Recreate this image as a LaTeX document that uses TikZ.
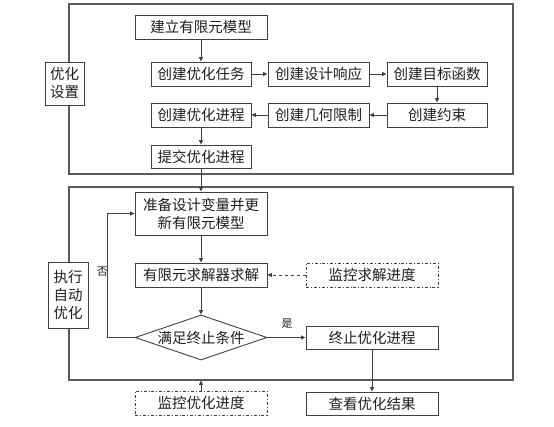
\documentclass[tikz,border=0pt]{standalone}
\usepackage{fontspec}
\setmainfont{Noto Sans CJK SC}
\usetikzlibrary{arrows.meta,shapes.geometric,positioning}
\definecolor{boxline}{HTML}{404040}
\definecolor{frameline}{HTML}{5A5A5A}
\definecolor{txt}{HTML}{1E1E1E}
\begin{document}
\begin{tikzpicture}[x=1pt,y=-1pt,
  every node/.style={font=\fontsize{14.5}{18}\selectfont, text=txt, inner sep=0pt},
  box/.style={draw=boxline, line width=0.9pt, fill=white, minimum height=24pt, align=center},
  wbox/.style={box, minimum width=132pt},
  nbox/.style={box, minimum width=100pt},
  mon/.style={wbox, dash dot},
  frame/.style={draw=frameline, line width=1.1pt},
  lab/.style={box, minimum width=39pt},
  arr/.style={draw=boxline, line width=0.9pt, -{Triangle[length=4.5pt,width=4pt]}},
  small/.style={font=\fontsize{11}{13}\selectfont}
]
\useasboundingbox (0,0) rectangle (554,426);
% frames
\node[frame, minimum width=444pt, minimum height=170pt] (F1) at (291,89) {};
\node[frame, minimum width=444pt, minimum height=193pt] (F2) at (291,283.5) {};
\node[lab, minimum height=43pt] (L1) at (64.5,83.5) {优化\\设置};
\node[lab, minimum width=40pt, minimum height=66pt] (L2) at (68,295) {执行\\自动\\优化};
% setup nodes
\node[wbox] (m1) at (201,27) {建立有限元模型};
\node[nbox] (t1) at (201,74) {创建优化任务};
\node[nbox, minimum width=101pt] (t2) at (318.5,74) {创建设计响应};
\node[nbox] (t3) at (437,74) {创建目标函数};
\node[nbox] (t4) at (437,115) {创建约束};
\node[nbox, minimum width=101pt] (t5) at (318.5,115) {创建几何限制};
\node[nbox] (t6) at (201,115) {创建优化进程};
\node[nbox, minimum height=23pt] (t7) at (201,156.5) {提交优化进程};
% execution nodes
\node[wbox, minimum height=43pt] (b1) at (201,213.5) {准备设计变量并更\\新有限元模型};
\node[wbox] (b2) at (201,275) {有限元求解器求解};
\node[draw=boxline, line width=0.9pt, fill=white, diamond, aspect=2.9, minimum width=132pt, minimum height=45pt] (d) at (201,337.5) {满足终止条件};
\node[mon] (m2) at (372,275) {监控求解进度};
\node[wbox, minimum height=23pt] (e1) at (372,337.5) {终止优化进程};
\node[mon] (m3) at (201,403) {监控优化进度};
\node[wbox, minimum height=23pt] (e2) at (372,403.5) {查看优化结果};
% connectors
\draw[arr] (m1) -- (t1);
\draw[arr] (t1) -- (t2);
\draw[arr] (t2) -- (t3);
\draw[arr] (t3) -- (t4);
\draw[arr] (t4) -- (t5);
\draw[arr] (t5) -- (t6);
\draw[arr] (t6) -- (t7);
\draw[arr] (t7) -- (b1);
\draw[arr] (b1) -- (b2);
\draw[arr] (b2) -- (d);
\coordinate (lp) at (107,337.5);
\draw[arr] (d.west) -- (lp) |- (b1.west);
\node[small, anchor=east] (no) at (108,272) {否};
\draw[arr] (d.east) -- (e1.west);
\node[small] (yes) at (287,324) {是};
\draw[arr, dashed] (m2) -- (b2);
\draw[arr] (m3.north) -- (m3.north |- F2.south);
\draw[arr] (e1) -- (e2);
\end{tikzpicture}
\end{document}
